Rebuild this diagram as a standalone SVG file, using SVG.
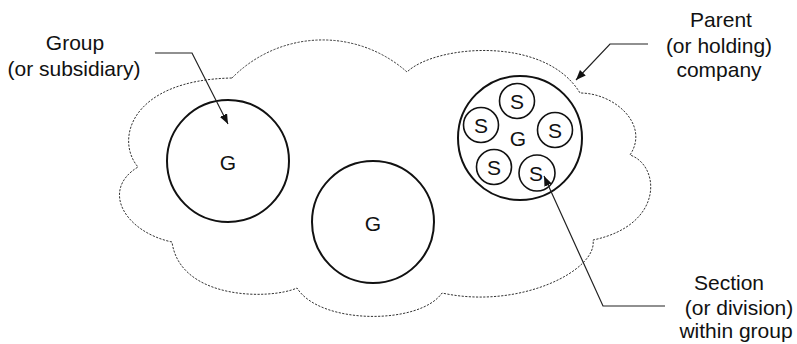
<svg xmlns="http://www.w3.org/2000/svg" width="797" height="344" viewBox="0 0 797 344">
<defs>
<style>
.t{font-family:"Liberation Sans",Arial,sans-serif;font-size:21px;fill:#111;text-anchor:middle}
.big{fill:none;stroke:#111;stroke-width:2}
.small{fill:none;stroke:#111;stroke-width:1.6}
.cloud{fill:none;stroke:#333;stroke-width:1;stroke-dasharray:2.2,1.4}
.ln{fill:none;stroke:#222;stroke-width:1.2}
</style>
<marker id="ah" viewBox="0 0 10 8" refX="10" refY="4" markerWidth="10" markerHeight="8" markerUnits="userSpaceOnUse" orient="auto">
<path d="M0,0 L10,4 L0,8 Z" fill="#111"/>
</marker>
</defs>
<rect width="797" height="344" fill="#fff"/>
<g id="parent-company">
<path class="cloud" d="M232,78 A127,127 0 0 1 407,72 C435,45 545,35 580,93 C615,93 650,125 630,155 C660,165 665,225 593,240 C598,270 520,310 442,293 C420,325 320,325 297,288 C270,300 180,300 172,242 C125,232 100,190 138,167 C115,140 130,80 232,78 Z"/>
</g>
<g id="group-left">
<circle class="big" cx="228" cy="161" r="61"/>
<text class="t" x="228" y="170">G</text>
</g>
<g id="group-middle">
<circle class="big" cx="373" cy="222" r="61"/>
<text class="t" x="373" y="231">G</text>
</g>
<g id="group-right">
<circle class="big" cx="520" cy="138" r="62"/>
<text class="t" x="518" y="146">G</text>
</g>
<g id="section-1"><circle class="small" cx="517" cy="101" r="17.5"/><text class="t" x="517" y="109">S</text></g>
<g id="section-2"><circle class="small" cx="481" cy="125" r="17.5"/><text class="t" x="481" y="133">S</text></g>
<g id="section-3"><circle class="small" cx="555" cy="130" r="17.5"/><text class="t" x="555" y="138">S</text></g>
<g id="section-4"><circle class="small" cx="494" cy="167" r="17.5"/><text class="t" x="494" y="175">S</text></g>
<g id="section-5"><circle class="small" cx="537" cy="173" r="18"/><text class="t" x="536" y="181">S</text></g>
<g id="label-group">
<text class="t" x="75" y="50">Group</text>
<text class="t" x="74" y="76">(or subsidiary)</text>
</g>
<g id="label-parent">
<text class="t" x="721" y="27">Parent</text>
<text class="t" x="719" y="53">(or holding)</text>
<text class="t" x="719" y="77">company</text>
</g>
<g id="label-section">
<text class="t" x="729" y="290">Section</text>
<text class="t" x="739" y="315">(or division)</text>
<text class="t" x="736" y="338">within group</text>
</g>
<g id="connectors">
<polyline class="ln" points="155,53 192,53 228,124" marker-end="url(#ah)"/>
<polyline class="ln" points="648,44 610,44 576,80" marker-end="url(#ah)"/>
<polyline class="ln" points="665,306 603,306 544,176" marker-end="url(#ah)"/>
</g>
</svg>
